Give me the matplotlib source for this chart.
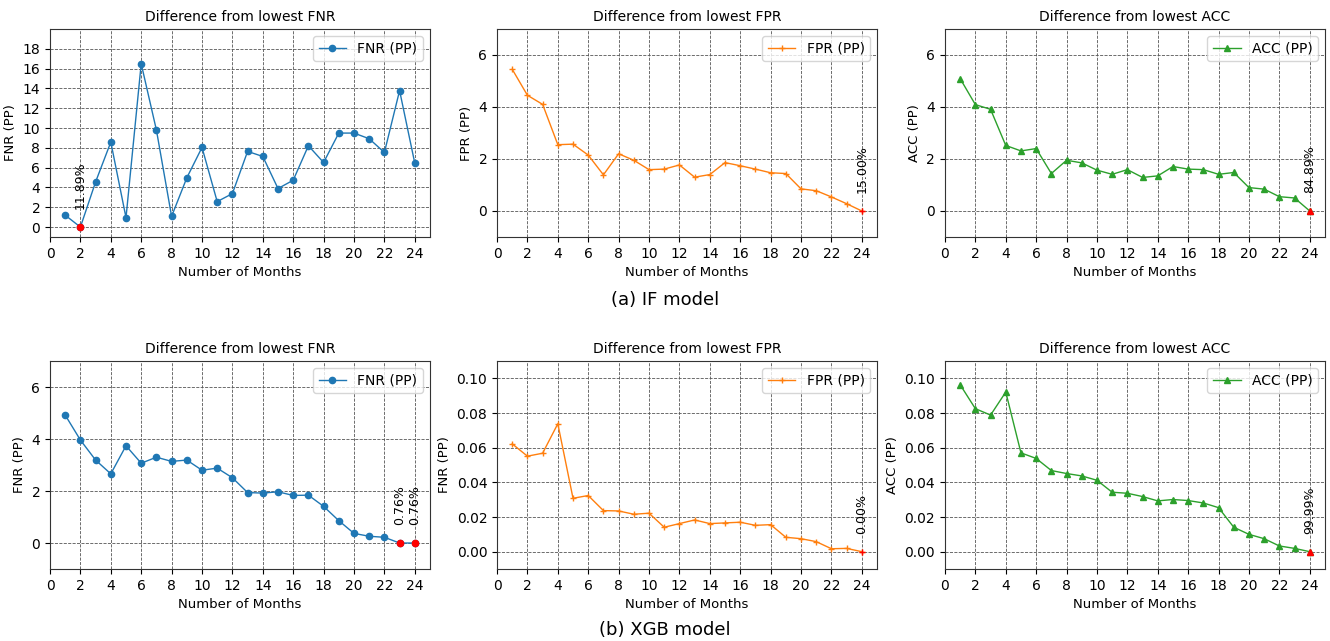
import matplotlib
matplotlib.use("Agg")
import matplotlib.pyplot as plt

months = list(range(1, 25))

# IF model
if_fnr = [1.2, 0.0, 4.56, 8.58, 0.95, 16.49, 9.8, 1.08, 4.97, 8.04, 2.57, 3.38,
          7.64, 7.13, 3.89, 4.73, 8.21, 6.52, 9.49, 9.49, 8.92, 7.53, 13.78, 6.45]
if_fpr = [5.45, 4.45, 4.1, 2.55, 2.57, 2.15, 1.39, 2.2, 1.95, 1.59, 1.61, 1.77,
          1.3, 1.4, 1.86, 1.74, 1.61, 1.47, 1.44, 0.85, 0.78, 0.54, 0.28, 0.0]
if_acc = [5.09, 4.09, 3.91, 2.52, 2.31, 2.4, 1.44, 1.95, 1.85, 1.57, 1.41, 1.59,
          1.29, 1.35, 1.71, 1.61, 1.59, 1.41, 1.48, 0.9, 0.84, 0.55, 0.5, 0.0]

# XGB model
xgb_fnr = [4.92, 3.96, 3.19, 2.66, 3.74, 3.07, 3.3, 3.14, 3.19, 2.8, 2.88, 2.51,
           1.94, 1.92, 1.97, 1.83, 1.84, 1.41, 0.86, 0.37, 0.26, 0.22, 0.0, 0.0]
xgb_fpr = [0.0622, 0.0551, 0.0568, 0.0738, 0.0308, 0.0324, 0.0237, 0.0235, 0.0216,
           0.0222, 0.0141, 0.0162, 0.0183, 0.0162, 0.0166, 0.017, 0.0152, 0.0156,
           0.0083, 0.0075, 0.0058, 0.0017, 0.0019, 0.0]
xgb_acc = [0.0963, 0.0825, 0.0788, 0.0921, 0.057, 0.0538, 0.0468, 0.0451, 0.0437,
           0.0412, 0.0343, 0.0337, 0.0318, 0.0293, 0.0301, 0.0295, 0.0281, 0.0254,
           0.0141, 0.01, 0.0075, 0.0033, 0.0019, 0.0]

# value of the metric at the lowest point (shown as label)
min_labels = {
    "if_fnr": "11.89%", "if_fpr": "15.00%", "if_acc": "84.89%",
    "xgb_fnr": "0.76%", "xgb_fpr": "0.00%", "xgb_acc": "99.99%",
}

panels = [
    # key, data, title, ylabel, legend, color, marker, ylim, yticks
    ("if_fnr", if_fnr, "Difference from lowest FNR", "FNR (PP)", "FNR (PP)", "tab:blue", "o",
     (-1, 20), list(range(0, 19, 2))),
    ("if_fpr", if_fpr, "Difference from lowest FPR", "FPR (PP)", "FPR (PP)", "tab:orange", "+",
     (-1, 7), [0, 2, 4, 6]),
    ("if_acc", if_acc, "Difference from lowest ACC", "ACC (PP)", "ACC (PP)", "tab:green", "^",
     (-1, 7), [0, 2, 4, 6]),
    ("xgb_fnr", xgb_fnr, "Difference from lowest FNR", "FNR (PP)", "FNR (PP)", "tab:blue", "o",
     (-1, 7), [0, 2, 4, 6]),
    ("xgb_fpr", xgb_fpr, "Difference from lowest FPR", "FNR (PP)", "FPR (PP)", "tab:orange", "+",
     (-0.01, 0.11), [0.0, 0.02, 0.04, 0.06, 0.08, 0.10]),
    ("xgb_acc", xgb_acc, "Difference from lowest ACC", "ACC (PP)", "ACC (PP)", "tab:green", "^",
     (-0.01, 0.11), [0.0, 0.02, 0.04, 0.06, 0.08, 0.10]),
]

msize = {"o": 4.5, "+": 5, "^": 5}

fig = plt.figure(figsize=(13.3, 6.41), dpi=100)

lefts = [0.0376, 0.3737, 0.7105]
bottoms = [0.6303, 0.1123]
w, h = 0.2857, 0.3245

for i, (key, vals, title, ylab, leg, color, marker, ylim, yticks) in enumerate(panels):
    ax = fig.add_axes([lefts[i % 3], bottoms[i // 3], w, h])
    ax.plot(months, vals, color=color, marker=marker, markersize=msize[marker],
            linewidth=1, label=leg)
    lo = min(vals)
    for m, v in zip(months, vals):
        if v == lo:
            ax.plot(m, v, marker=marker, color="red", markersize=msize[marker], linestyle="none")
            ax.annotate(min_labels[key], (m, v), xytext=(0, 13), textcoords="offset points",
                        rotation=90, ha="center", va="bottom", fontsize=9)
    ax.set_xlim(0, 25)
    ax.set_xticks(range(0, 25, 2))
    ax.set_ylim(*ylim)
    ax.set_yticks(yticks)
    if ylim[1] < 1:
        ax.set_yticklabels([f"{t:.2f}" for t in yticks])
    ax.grid(True, linestyle="--", color="#555555", linewidth=0.6)
    for s in ax.spines.values():
        s.set_color("#333333")
    ax.set_title(title, fontsize=10)
    ax.set_xlabel("Number of Months", fontsize=9.5)
    ax.set_ylabel(ylab, fontsize=9.5)
    ax.tick_params(labelsize=10)
    ax.legend(loc="upper right", fontsize=10)

fig.text(0.5, 0.532, "(a) IF model", ha="center", va="center", fontsize=13)
fig.text(0.5, 0.017, "(b) XGB model", ha="center", va="center", fontsize=13)

fig.savefig("out.png", dpi=100)
